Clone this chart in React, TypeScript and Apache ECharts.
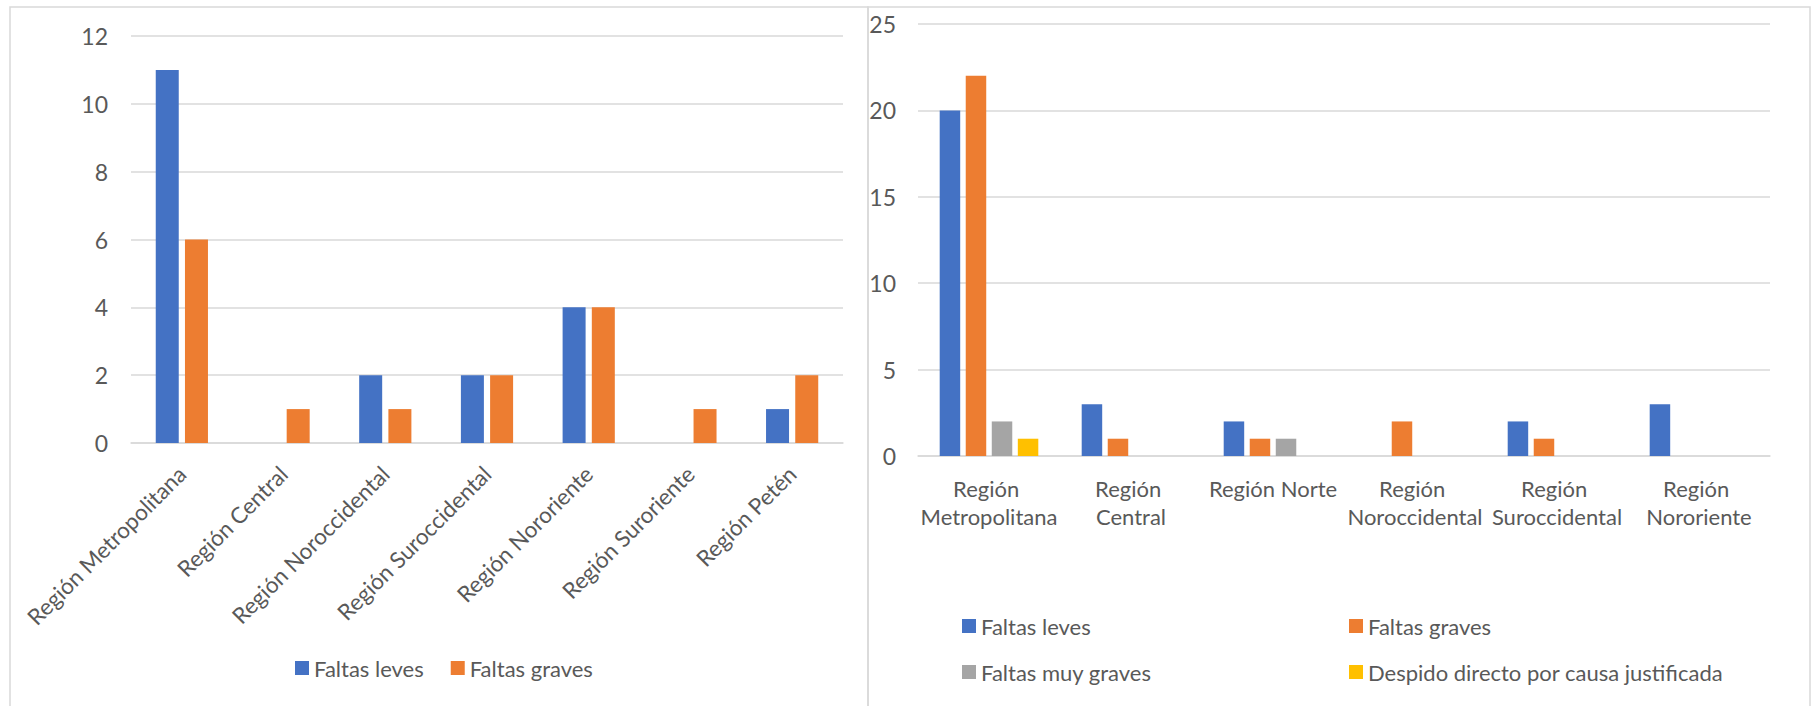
import React, { useEffect, useRef } from "react";
import * as echarts from "echarts";

const leftCategories = [
  "Región Metropolitana",
  "Región Central",
  "Región Noroccidental",
  "Región Suroccidental",
  "Región Nororiente",
  "Región Suroriente",
  "Región Petén",
];
const leftLeves = [11, 0, 2, 2, 4, 0, 1];
const leftGraves = [6, 1, 1, 2, 4, 1, 2];

const rightCategories = [
  "Región Metropolitana",
  "Región Central",
  "Región Norte",
  "Región Noroccidental",
  "Región Suroccidental",
  "Región Nororiente",
];
const rightLeves = [20, 3, 2, 0, 2, 3];
const rightGraves = [22, 1, 1, 2, 1, 0];
const rightMuyGraves = [2, 0, 1, 0, 0, 0];
const rightDespido = [1, 0, 0, 0, 0, 0];

const NAME_LEVES = "Faltas leves";
const NAME_GRAVES = "Faltas graves";
const NAME_MUY = "Faltas muy graves";
const NAME_DESPIDO = "Despido directo por causa justificada";

const BLUE = "#4472C4";
const ORANGE = "#ED7D31";
const GRAY = "#A5A5A5";
const YELLOW = "#FFC000";
const TEXT = "#595959";
const GRID = "#D9D9D9";
const FONT = 'Lato, "Open Sans", sans-serif';

export default function App() {
  const ref = useRef<HTMLDivElement>(null);
  useEffect(() => {
    if (!ref.current) return;
    const chart = echarts.init(ref.current, undefined, { renderer: "svg" });
    const label = { color: TEXT, fontSize: 22, fontFamily: FONT };
    const legendText = { color: TEXT, fontSize: 22, fontFamily: FONT };
    const mkLegend = (name: string, left: number, top: number) => ({
      data: [name],
      left,
      top,
      padding: 0,
      itemWidth: 14,
      itemHeight: 14,
      itemGap: 27,
      icon: "rect",
      textStyle: legendText,
      selectedMode: false,
    });
    chart.setOption({
      animation: false,
      textStyle: { fontFamily: FONT },
      color: [BLUE, ORANGE, GRAY, YELLOW],
      graphic: [
        {
          type: "rect",
          shape: { x: 10, y: 7, width: 858, height: 720 },
          style: { fill: "none", stroke: GRID, lineWidth: 1.5 },
          silent: true,
        },
        {
          type: "rect",
          shape: { x: 868, y: 7, width: 942, height: 720 },
          style: { fill: "none", stroke: GRID, lineWidth: 1.5 },
          silent: true,
        },
      ],
      grid: [
        { left: 131, top: 36, width: 712, height: 407 },
        { left: 918, top: 24, width: 852, height: 432 },
      ],
      xAxis: [
        {
          type: "category",
          gridIndex: 0,
          data: leftCategories,
          axisLine: { lineStyle: { color: GRID, width: 1.5 } },
          axisTick: { show: false },
          axisLabel: { ...label, fontSize: 22.5, rotate: 45, margin: 27, interval: 0 },
        },
        {
          type: "category",
          gridIndex: 1,
          data: rightCategories,
          axisLine: { lineStyle: { color: GRID, width: 1.5 } },
          axisTick: { show: false },
          axisLabel: {
            ...label,
            interval: 0,
            margin: 18,
            width: 142,
            overflow: "break",
            lineHeight: 28,
          },
        },
      ],
      yAxis: [
        {
          type: "value",
          gridIndex: 0,
          min: 0,
          max: 12,
          interval: 2,
          axisLine: { show: false },
          axisTick: { show: false },
          splitLine: { lineStyle: { color: GRID, width: 1.5 } },
          axisLabel: { ...label, fontSize: 23, margin: 23 },
        },
        {
          type: "value",
          gridIndex: 1,
          min: 0,
          max: 25,
          interval: 5,
          axisLine: { show: false },
          axisTick: { show: false },
          splitLine: { lineStyle: { color: GRID, width: 1.5 } },
          axisLabel: { ...label, fontSize: 23, margin: 22 },
        },
      ],
      legend: [
        {
          data: [NAME_LEVES, NAME_GRAVES],
          left: 295,
          top: 657,
          padding: 0,
          itemWidth: 14,
          itemHeight: 14,
          itemGap: 27,
          icon: "rect",
          textStyle: legendText,
          selectedMode: false,
        },
        mkLegend(NAME_LEVES, 962, 615),
        mkLegend(NAME_GRAVES, 1349, 615),
        mkLegend(NAME_MUY, 962, 661),
        mkLegend(NAME_DESPIDO, 1349, 661),
      ],
      series: [
        {
          name: NAME_LEVES,
          type: "bar",
          xAxisIndex: 0,
          yAxisIndex: 0,
          data: leftLeves,
          barWidth: 23,
          barGap: "27%",
          itemStyle: { color: BLUE },
        },
        {
          name: NAME_GRAVES,
          type: "bar",
          xAxisIndex: 0,
          yAxisIndex: 0,
          data: leftGraves,
          barWidth: 23,
          barGap: "27%",
          itemStyle: { color: ORANGE },
        },
        {
          name: NAME_LEVES,
          type: "bar",
          xAxisIndex: 1,
          yAxisIndex: 1,
          data: rightLeves,
          barWidth: 20.5,
          barGap: "27%",
          itemStyle: { color: BLUE },
        },
        {
          name: NAME_GRAVES,
          type: "bar",
          xAxisIndex: 1,
          yAxisIndex: 1,
          data: rightGraves,
          barWidth: 20.5,
          barGap: "27%",
          itemStyle: { color: ORANGE },
        },
        {
          name: NAME_MUY,
          type: "bar",
          xAxisIndex: 1,
          yAxisIndex: 1,
          data: rightMuyGraves,
          barWidth: 20.5,
          barGap: "27%",
          itemStyle: { color: GRAY },
        },
        {
          name: NAME_DESPIDO,
          type: "bar",
          xAxisIndex: 1,
          yAxisIndex: 1,
          data: rightDespido,
          barWidth: 20.5,
          barGap: "27%",
          itemStyle: { color: YELLOW },
        },
      ],
    });
    return () => chart.dispose();
  }, []);
  return (
    <div
      ref={ref}
      style={{
        position: "fixed",
        left: 0,
        top: 0,
        width: 1812,
        height: 706,
        background: "#fff",
      }}
    />
  );
}
